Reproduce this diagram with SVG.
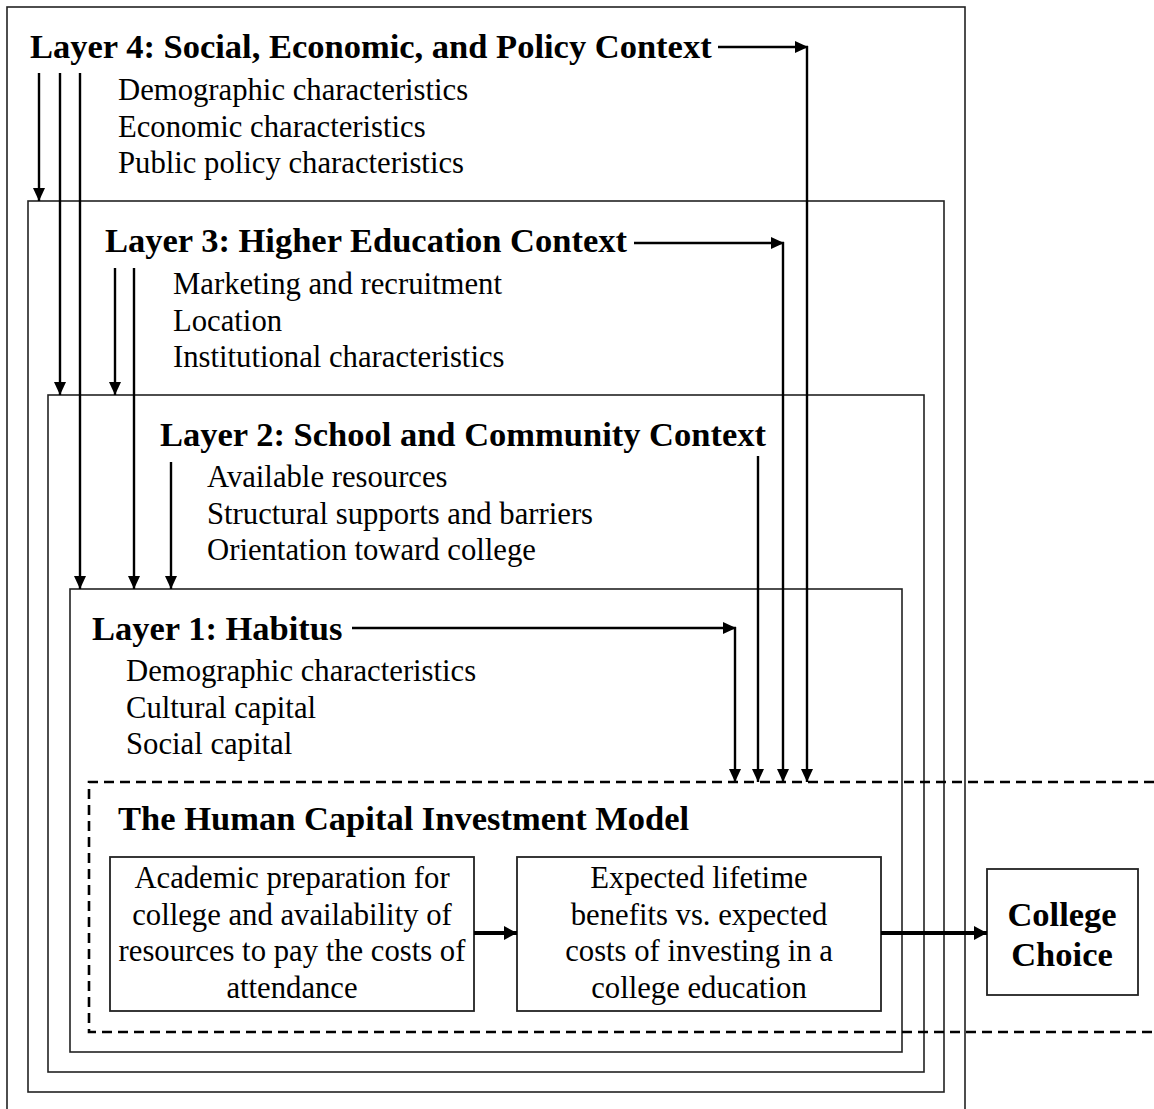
<svg xmlns="http://www.w3.org/2000/svg" width="1154" height="1109" viewBox="0 0 1154 1109">
  <defs>
    <style>
      .layer { fill: none; stroke: #222; stroke-width: 1.6; }
      .box { fill: #fff; stroke: #222; stroke-width: 1.8; }
      .dash { fill: none; stroke: #000; stroke-width: 2.6; stroke-dasharray: 10 6; }
      .arrow { fill: none; stroke: #000; stroke-width: 2.4; marker-end: url(#head); }
      .thick { fill: none; stroke: #000; stroke-width: 4; marker-end: url(#headBig); }
      .title { font-family: "Liberation Serif", "Times New Roman", serif; font-weight: bold; font-size: 34.5px; fill: #000; }
      .item { font-family: "Liberation Serif", "Times New Roman", serif; font-size: 30.7px; fill: #000; }
      .mid { text-anchor: middle; }
    </style>
    <marker id="head" viewBox="0 0 13 12" refX="13" refY="6" markerWidth="13" markerHeight="12" markerUnits="userSpaceOnUse" orient="auto">
      <path d="M0,0 L13,6 L0,12 z" fill="#000"/>
    </marker>
    <marker id="headBig" viewBox="0 0 13 14" refX="13" refY="7" markerWidth="13" markerHeight="14" markerUnits="userSpaceOnUse" orient="auto">
      <path d="M0,0 L13,7 L0,14 z" fill="#000"/>
    </marker>
  </defs>

  <rect width="1154" height="1109" fill="#fff"/>

  <!-- Layer 4: outermost context -->
  <g id="layer4">
    <rect class="layer" x="7" y="7" width="958" height="1110"/>
    <text class="title" x="30" y="58">Layer 4: Social, Economic, and Policy Context</text>
    <text class="item" x="118" y="100">Demographic characteristics</text>
    <text class="item" x="118" y="136.5">Economic characteristics</text>
    <text class="item" x="118" y="173">Public policy characteristics</text>
  </g>

  <!-- Layer 3: higher education context -->
  <g id="layer3">
    <rect class="layer" x="28" y="201" width="916" height="891"/>
    <text class="title" x="105" y="252">Layer 3: Higher Education Context</text>
    <text class="item" x="173" y="294">Marketing and recruitment</text>
    <text class="item" x="173" y="330.5">Location</text>
    <text class="item" x="173" y="367">Institutional characteristics</text>
  </g>

  <!-- Layer 2: school and community context -->
  <g id="layer2">
    <rect class="layer" x="48" y="395" width="876" height="677"/>
    <text class="title" x="160" y="446">Layer 2: School and Community Context</text>
    <text class="item" x="207" y="487">Available resources</text>
    <text class="item" x="207" y="523.5">Structural supports and barriers</text>
    <text class="item" x="207" y="560">Orientation toward college</text>
  </g>

  <!-- Layer 1: habitus -->
  <g id="layer1">
    <rect class="layer" x="70" y="589" width="832" height="463"/>
    <text class="title" x="92" y="640">Layer 1: Habitus</text>
    <text class="item" x="126" y="681">Demographic characteristics</text>
    <text class="item" x="126" y="717.5">Cultural capital</text>
    <text class="item" x="126" y="754">Social capital</text>
  </g>

  <!-- Human capital investment model (dashed, open to the right) -->
  <g id="hcim">
    <path class="dash" d="M1154,782 H89 V1032 H1154"/>
    <text class="title" x="118" y="830">The Human Capital Investment Model</text>
  </g>

  <g id="preparation">
    <rect class="box" x="110" y="857" width="364" height="154"/>
    <text class="item mid" x="292" y="888">Academic preparation for</text>
    <text class="item mid" x="292" y="924.5">college and availability of</text>
    <text class="item mid" x="292" y="961">resources to pay the costs of</text>
    <text class="item mid" x="292" y="997.5">attendance</text>
  </g>

  <g id="benefits">
    <rect class="box" x="517" y="857" width="364" height="154"/>
    <text class="item mid" x="699" y="888">Expected lifetime</text>
    <text class="item mid" x="699" y="924.5">benefits vs. expected</text>
    <text class="item mid" x="699" y="961">costs of investing in a</text>
    <text class="item mid" x="699" y="997.5">college education</text>
  </g>

  <g id="choice">
    <rect class="box" x="987" y="869" width="151" height="126"/>
    <text class="title mid" x="1062" y="926">College</text>
    <text class="title mid" x="1062" y="966">Choice</text>
  </g>

  <!-- Connectors -->
  <g id="connectors">
    <!-- downward influence on the left side -->
    <line class="arrow" x1="39" y1="73" x2="39" y2="201"/>
    <line class="arrow" x1="60" y1="73" x2="60" y2="395"/>
    <line class="arrow" x1="80" y1="73" x2="80" y2="589"/>
    <line class="arrow" x1="115" y1="268" x2="115" y2="395"/>
    <line class="arrow" x1="134" y1="268" x2="134" y2="589"/>
    <line class="arrow" x1="171" y1="462" x2="171" y2="589"/>

    <!-- each layer feeds the investment model -->
    <line class="arrow" x1="718" y1="47" x2="808" y2="47"/>
    <line class="arrow" x1="807" y1="46" x2="807" y2="782"/>
    <line class="arrow" x1="634" y1="243" x2="784" y2="243"/>
    <line class="arrow" x1="783" y1="242" x2="783" y2="782"/>
    <line class="arrow" x1="758" y1="456" x2="758" y2="782"/>
    <line class="arrow" x1="352" y1="628" x2="736" y2="628"/>
    <line class="arrow" x1="735" y1="627" x2="735" y2="782"/>

    <!-- model flow -->
    <line class="thick" x1="474" y1="933" x2="517" y2="933"/>
    <line class="thick" x1="881" y1="933" x2="987" y2="933"/>
  </g>
</svg>
